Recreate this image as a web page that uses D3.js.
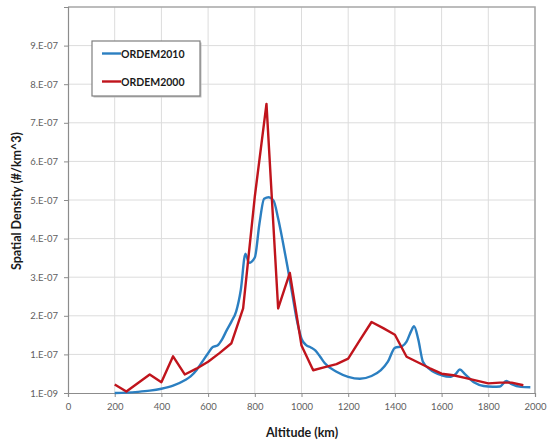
<!DOCTYPE html>
<html>
<head>
<meta charset="utf-8">
<script src="https://cdn.jsdelivr.net/npm/d3@7"></script>
<style>
  html, body { margin: 0; padding: 0; background: #fff; }
  svg { display: block; font-family: Lato, "Open Sans", "Liberation Sans", sans-serif; }
</style>
</head>
<body>
<svg id="chart" width="548" height="446"></svg>
<script>
// Altitude axis ticks (km)
const xTicks = [0, 200, 400, 600, 800, 1000, 1200, 1400, 1600, 1800, 2000];
// Density axis ticks and their labels (Excel-style, min at 1e-9)
const yTicks = [1e-9, 1.01e-7, 2.01e-7, 3.01e-7, 4.01e-7, 5.01e-7, 6.01e-7, 7.01e-7, 8.01e-7, 9.01e-7];
const yTickLabels = ["1.E-09", "1.E-07", "2.E-07", "3.E-07", "4.E-07", "5.E-07", "6.E-07", "7.E-07", "8.E-07", "9.E-07"];

// ORDEM2010 spatial density (#/km^3)
const alt2010 = [200, 250, 300, 350, 400, 450, 500, 525, 550, 575, 600, 620, 640, 660, 680, 700, 720, 740, 760, 775,
  800, 820, 840, 860, 880, 900, 920, 940, 960, 980, 1000, 1020, 1040, 1060, 1080, 1100, 1150, 1200, 1250, 1300,
  1340, 1370, 1400, 1430, 1450, 1470, 1482, 1500, 1520, 1550, 1600, 1640, 1660, 1678, 1700, 1740, 1780, 1820, 1850,
  1877, 1900, 1940, 1980];
const dens2010 = [1e-9, 2e-9, 4e-9, 7e-9, 1.2e-8, 2.0e-8, 3.4e-8, 4.4e-8, 6.0e-8, 8.2e-8, 1.04e-7, 1.20e-7, 1.24e-7,
  1.40e-7, 1.64e-7, 1.86e-7, 2.12e-7, 2.68e-7, 3.62e-7, 3.38e-7, 3.52e-7, 4.40e-7, 5.04e-7, 5.08e-7, 5.0e-7, 4.53e-7,
  3.93e-7, 3.28e-7, 2.59e-7, 1.90e-7, 1.42e-7, 1.25e-7, 1.19e-7, 1.11e-7, 9.5e-8, 7.8e-8, 5.6e-8, 4.3e-8, 3.8e-8,
  4.5e-8, 6.0e-8, 8.2e-8, 1.18e-7, 1.22e-7, 1.34e-7, 1.62e-7, 1.74e-7, 1.40e-7, 8.2e-8, 6.2e-8, 4.7e-8, 4.3e-8,
  5.0e-8, 6.2e-8, 5.0e-8, 2.8e-8, 1.9e-8, 1.7e-8, 1.8e-8, 3.2e-8, 2.4e-8, 1.7e-8, 1.6e-8];

// ORDEM2000 spatial density (#/km^3)
const alt2000 = [200, 250, 300, 350, 400, 450, 500, 550, 600, 650, 700, 750, 800, 850, 900, 950, 1000, 1050, 1100,
  1150, 1200, 1250, 1300, 1350, 1400, 1450, 1500, 1550, 1600, 1650, 1700, 1750, 1800, 1850, 1900, 1950];
const dens2000 = [2.3e-8, 5e-9, 2.7e-8, 4.9e-8, 2.9e-8, 9.6e-8, 4.9e-8, 6.4e-8, 8.2e-8, 1.05e-7, 1.30e-7, 2.2e-7,
  5.1e-7, 7.5e-7, 2.2e-7, 3.12e-7, 1.24e-7, 6.0e-8, 6.8e-8, 7.6e-8, 9.0e-8, 1.38e-7, 1.85e-7, 1.69e-7, 1.52e-7,
  9.5e-8, 8.0e-8, 6.5e-8, 5.1e-8, 4.7e-8, 4.0e-8, 3.3e-8, 2.6e-8, 2.8e-8, 2.8e-8, 2.1e-8];

const seriesNames = ["ORDEM2010", "ORDEM2000"];
const seriesColors = ["#2b7fc1", "#c0141c"];

const svg = d3.select("#chart");
const plot = { left: 68, right: 535, top: 7, bottom: 393 };

const x = d3.scaleLinear().domain([0, 2000]).range([plot.left, plot.right]);
const y = d3.scaleLinear().domain([1e-9, 1.001e-6]).range([plot.bottom, plot.top]);

// Gridlines
const grid = svg.append("g");
grid.selectAll("line.v").data(xTicks.slice(1)).join("line")
  .attr("x1", d => x(d)).attr("x2", d => x(d))
  .attr("y1", plot.top).attr("y2", plot.bottom)
  .attr("stroke", "#dcdcdc").attr("stroke-width", 1);
grid.selectAll("line.h").data(yTicks.slice(1)).join("line")
  .attr("x1", plot.left).attr("x2", plot.right)
  .attr("y1", d => y(d)).attr("y2", d => y(d))
  .attr("stroke", "#dcdcdc").attr("stroke-width", 1);

// Plot frame (top and right)
svg.append("path")
  .attr("d", `M${plot.left},${plot.top}H${plot.right}V${plot.bottom}`)
  .attr("fill", "none").attr("stroke", "#a6a6a6").attr("stroke-width", 1.5);

// X axis
const xAxis = svg.append("g")
  .attr("transform", `translate(0,${plot.bottom})`)
  .call(d3.axisBottom(x).tickValues(xTicks).tickFormat(d3.format("d")).tickSize(4).tickPadding(6));
// Y axis
const yAxis = svg.append("g")
  .attr("transform", `translate(${plot.left},0)`)
  .call(d3.axisLeft(y).tickValues(yTicks).tickFormat((d, i) => yTickLabels[i]).tickSize(4).tickPadding(6));

[xAxis, yAxis].forEach(a => {
  a.select(".domain").attr("stroke", "#8c8c8c").attr("stroke-width", 1.2);
  a.selectAll(".tick line").attr("stroke", "#8c8c8c");
  a.selectAll(".tick text").attr("fill", "#606060").attr("font-size", 9.5)
    .attr("font-family", "Lato, 'Open Sans', sans-serif");
});

// Data lines
const line2000 = d3.line().x((d, i) => x(alt2000[i])).y(d => y(d));
const line2010 = d3.line().x((d, i) => x(alt2010[i])).y(d => y(d)).curve(d3.curveMonotoneX);

svg.append("path").datum(dens2010)
  .attr("d", line2010).attr("fill", "none")
  .attr("stroke", seriesColors[0]).attr("stroke-width", 2.4).attr("stroke-linejoin", "round");
svg.append("path").datum(dens2000)
  .attr("d", line2000).attr("fill", "none")
  .attr("stroke", seriesColors[1]).attr("stroke-width", 2.4).attr("stroke-linejoin", "round");

// Axis titles
svg.append("text")
  .attr("x", 302).attr("y", 437).attr("text-anchor", "middle")
  .attr("font-size", 12.5).attr("font-weight", "bold").attr("fill", "#1a1a1a")
  .text("Altitude (km)");
svg.append("text")
  .attr("transform", "translate(21,201) rotate(-90)").attr("text-anchor", "middle")
  .attr("font-size", 12.5).attr("font-weight", "bold").attr("fill", "#1a1a1a")
  .text("Spatial Density (#/km^3)");

// Legend
const legend = svg.append("g").attr("transform", "translate(92,41)");
legend.append("rect")
  .attr("x", 1.5).attr("y", 1.5).attr("width", 108).attr("height", 55)
  .attr("fill", "#bfbfbf");
legend.append("rect")
  .attr("width", 108).attr("height", 55)
  .attr("fill", "#fff").attr("stroke", "#7f7f7f").attr("stroke-width", 1.2);
seriesNames.forEach((name, i) => {
  const ly = 12.5 + i * 28;
  legend.append("line")
    .attr("x1", 10).attr("x2", 29).attr("y1", ly).attr("y2", ly)
    .attr("stroke", seriesColors[i]).attr("stroke-width", 2.4);
  legend.append("text")
    .attr("x", 29).attr("y", ly + 4).attr("font-size", 10.5).attr("font-weight", "bold")
    .attr("fill", "#1a1a1a").text(name);
});
</script>
</body>
</html>
